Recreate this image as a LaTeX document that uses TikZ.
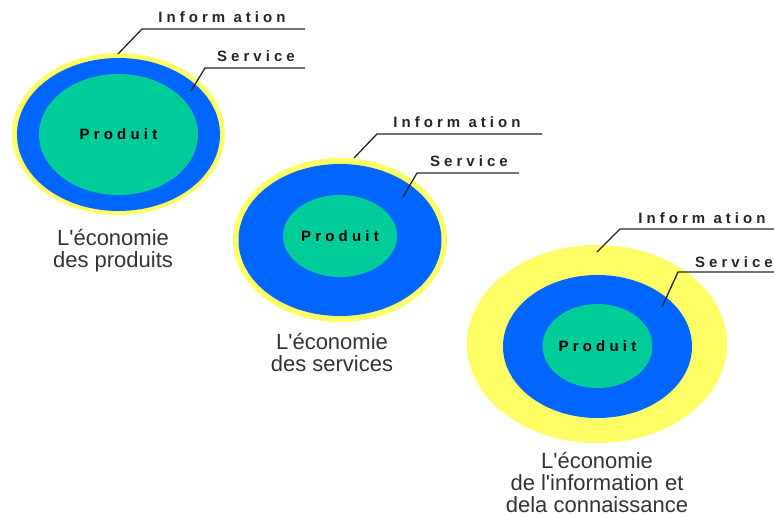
\documentclass[tikz,border=0pt]{standalone}
\usepackage{fontspec}
\setmainfont{Liberation Sans}
\usetikzlibrary{shapes.geometric}
\definecolor{infoyellow}{HTML}{FFFF66}
\definecolor{serviceblue}{HTML}{0066FF}
\definecolor{productgreen}{HTML}{00CC99}
\definecolor{captiongray}{HTML}{333333}
\newcommand{\apos}{\textquotesingle}
\begin{document}
\begin{tikzpicture}[x=1pt,y=-1pt,
  ring/.style={ellipse, inner sep=0pt, draw=none},
  inforing/.style={ring, fill=infoyellow},
  servring/.style={ring, fill=serviceblue},
  prodring/.style={ring, fill=productgreen,
    font=\fontsize{15}{15}\selectfont\bfseries\addfontfeature{LetterSpace=28}},
  leader/.style={draw=black!85, line width=1.3pt},
  tag/.style={anchor=base, inner sep=0pt, text=black!85,
    font=\fontsize{15}{15}\selectfont\bfseries\addfontfeature{LetterSpace=27}},
  caption/.style={anchor=north, inner sep=0pt, align=center, text=captiongray,
    font=\fontsize{22}{22}\selectfont}]
\useasboundingbox (0,0) rectangle (774,516);

% Economy of products
\node[inforing, minimum width=213pt, minimum height=162pt] (i1) at (118.5,134) {};
\node[servring, minimum width=203pt, minimum height=153pt] (s1) at (118.5,134.5) {};
\node[prodring, minimum width=159pt, minimum height=121pt] (p1) at (118.5,134.5) {Produit};
\coordinate (i1a) at (118,54);
\coordinate (i1b) at (142,29);
\coordinate (i1c) at (305,29);
\coordinate (s1a) at (191,91);
\coordinate (s1b) at (205,68);
\coordinate (s1c) at (305,68);
\draw[leader] (i1a) -- (i1b) -- (i1c);
\draw[leader] (s1a) -- (s1b) -- (s1c);
\node[tag] (ti1) at (222,23) {Inform ation};
\node[tag] (ts1) at (256,62) {Service};
\node[caption] (c1) at (113,229) {L\apos économie\\des produits};

% Economy of services
\node[inforing, minimum width=214pt, minimum height=164pt] (i2) at (340,240) {};
\node[servring, minimum width=203pt, minimum height=152pt] (s2) at (340,240) {};
\node[prodring, minimum width=114pt, minimum height=82pt] (p2) at (340,236) {Produit};
\coordinate (i2a) at (354,158);
\coordinate (i2b) at (377,134);
\coordinate (i2c) at (542,134);
\coordinate (s2a) at (403,197);
\coordinate (s2b) at (417,173);
\coordinate (s2c) at (519,173);
\draw[leader] (i2a) -- (i2b) -- (i2c);
\draw[leader] (s2a) -- (s2b) -- (s2c);
\node[tag] (ti2) at (457,128) {Inform ation};
\node[tag] (ts2) at (469,167) {Service};
\node[caption] (c2) at (332,333) {L\apos économie\\des services};

% Economy of information and knowledge
\node[inforing, minimum width=260pt, minimum height=198pt] (i3) at (597,344) {};
\node[servring, minimum width=189pt, minimum height=143pt] (s3) at (597.5,346.5) {};
\node[prodring, minimum width=109pt, minimum height=84pt] (p3) at (597.5,346) {Produit};
\coordinate (i3a) at (597,252);
\coordinate (i3b) at (620,229);
\coordinate (i3c) at (774,229);
\coordinate (s3a) at (662,307);
\coordinate (s3b) at (678,272);
\coordinate (s3c) at (774,272);
\draw[leader] (i3a) -- (i3b) -- (i3c);
\draw[leader] (s3a) -- (s3b) -- (s3c);
\node[tag] (ti3) at (702,223) {Inform ation};
\node[tag] (ts3) at (734,267) {Service};
\node[caption] (c3) at (597,452) {L\apos économie\\de l\apos information et\\dela connaissance};
\end{tikzpicture}
\end{document}
